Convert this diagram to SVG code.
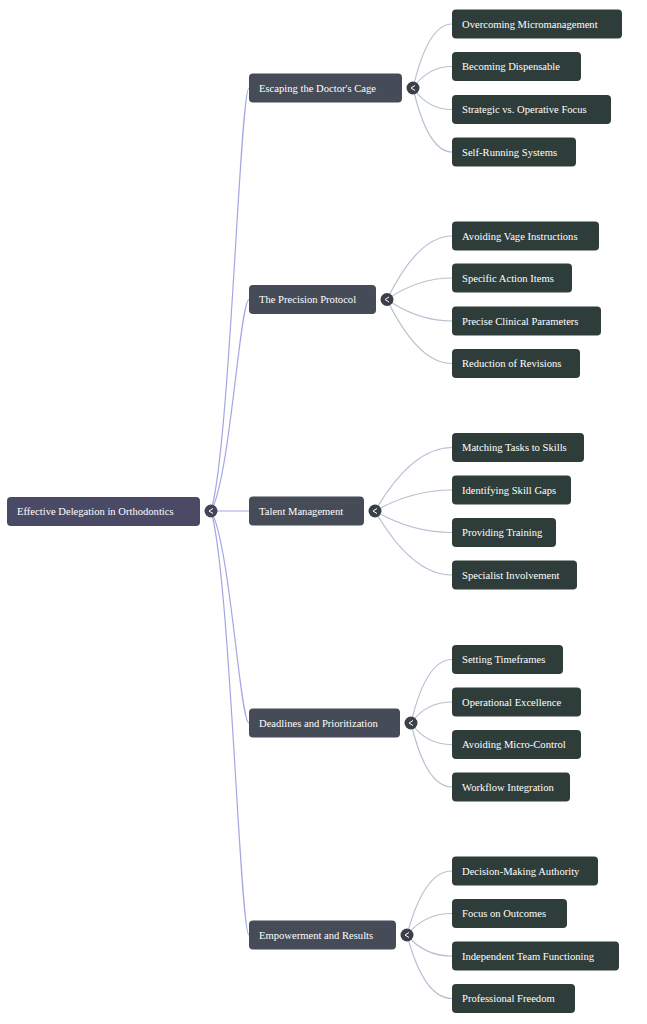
<svg xmlns="http://www.w3.org/2000/svg" width="647" height="1024" viewBox="0 0 647 1024">
<style>
text{font-family:"Liberation Serif","Times New Roman",serif;font-size:10.6px;fill:#ffffff}
.root{fill:#4b4a66}
.l1{fill:#454b57}
.l2{fill:#2e3d39}
.c0{fill:#434659}
.c1{fill:#3a3f48}
.arr{fill:none;stroke:#ffffff;stroke-width:1}
.m{fill:none;stroke:#a4a8e2;stroke-width:1.2}
.s{fill:none;stroke:#b7c1d0;stroke-width:1.2}
</style>
<rect width="647" height="1024" fill="#ffffff"/>
<g id="connectors">
<path class="m" d="M211 511 C230 447.5 240 88 249 88"/>
<path class="m" d="M211 511 C230 479 240 299.5 249 299.5"/>
<path class="m" d="M211 511 L249 511"/>
<path class="m" d="M211 511 C230 543 240 723 249 723"/>
<path class="m" d="M211 511 C230 574.5 240 935 249 935"/>
<path class="s" d="M413 88 Q428 24 452 24"/>
<path class="s" d="M413 88 Q428 66.5 452 66.5"/>
<path class="s" d="M413 88 Q428 109.5 452 109.5"/>
<path class="s" d="M413 88 Q428 152 452 152"/>
<path class="s" d="M387 299.5 Q418 236 452 236"/>
<path class="s" d="M387 299.5 Q418 278 452 278"/>
<path class="s" d="M387 299.5 Q418 321 452 321"/>
<path class="s" d="M387 299.5 Q418 363.5 452 363.5"/>
<path class="s" d="M375 511 Q412 447.5 452 447.5"/>
<path class="s" d="M375 511 Q412 490 452 490"/>
<path class="s" d="M375 511 Q412 532.5 452 532.5"/>
<path class="s" d="M375 511 Q412 575 452 575"/>
<path class="s" d="M411 723 Q426 659.5 452 659.5"/>
<path class="s" d="M411 723 Q426 702 452 702"/>
<path class="s" d="M411 723 Q426 744.5 452 744.5"/>
<path class="s" d="M411 723 Q426 787 452 787"/>
<path class="s" d="M407 935 Q424 871 452 871"/>
<path class="s" d="M407 935 Q424 913.5 452 913.5"/>
<path class="s" d="M407 935 Q424 956 452 956"/>
<path class="s" d="M407 935 Q424 998.5 452 998.5"/>
</g>
<g id="root">
<rect class="root" x="7" y="497" width="193" height="29" rx="4"/>
<text x="17" y="515">Effective Delegation in Orthodontics</text>
<circle class="c0" cx="211" cy="511" r="6.5"/>
<path class="arr" d="M213 508.5 L209 511 L213 513.5"/>
</g>
<g id="n1">
<rect class="l1" x="249" y="73.5" width="153" height="29" rx="4"/>
<text x="259" y="91.5">Escaping the Doctor's Cage</text>
<circle class="c1" cx="413" cy="88" r="6.5"/>
<path class="arr" d="M415 85.5 L411 88 L415 90.5"/>
</g>
<g id="n2">
<rect class="l1" x="249" y="285" width="127" height="29" rx="4"/>
<text x="259" y="303">The Precision Protocol</text>
<circle class="c1" cx="387" cy="299.5" r="6.5"/>
<path class="arr" d="M389 297 L385 299.5 L389 302"/>
</g>
<g id="n3">
<rect class="l1" x="249" y="496.5" width="115" height="29" rx="4"/>
<text x="259" y="514.5">Talent Management</text>
<circle class="c1" cx="375" cy="511" r="6.5"/>
<path class="arr" d="M377 508.5 L373 511 L377 513.5"/>
</g>
<g id="n4">
<rect class="l1" x="249" y="708.5" width="151" height="29" rx="4"/>
<text x="259" y="726.5">Deadlines and Prioritization</text>
<circle class="c1" cx="411" cy="723" r="6.5"/>
<path class="arr" d="M413 720.5 L409 723 L413 725.5"/>
</g>
<g id="n5">
<rect class="l1" x="249" y="920.5" width="147" height="29" rx="4"/>
<text x="259" y="938.5">Empowerment and Results</text>
<circle class="c1" cx="407" cy="935" r="6.5"/>
<path class="arr" d="M409 932.5 L405 935 L409 937.5"/>
</g>
<g id="n1a"><rect class="l2" x="452" y="9.5" width="170" height="29" rx="4"/><text x="462" y="27.5">Overcoming Micromanagement</text></g>
<g id="n1b"><rect class="l2" x="452" y="52" width="129" height="29" rx="4"/><text x="462" y="70">Becoming Dispensable</text></g>
<g id="n1c"><rect class="l2" x="452" y="95" width="159" height="29" rx="4"/><text x="462" y="113">Strategic vs. Operative Focus</text></g>
<g id="n1d"><rect class="l2" x="452" y="137.5" width="124" height="29" rx="4"/><text x="462" y="155.5">Self-Running Systems</text></g>
<g id="n2a"><rect class="l2" x="452" y="221.5" width="147" height="29" rx="4"/><text x="462" y="239.5">Avoiding Vage Instructions</text></g>
<g id="n2b"><rect class="l2" x="452" y="263.5" width="120" height="29" rx="4"/><text x="462" y="281.5">Specific Action Items</text></g>
<g id="n2c"><rect class="l2" x="452" y="306.5" width="149" height="29" rx="4"/><text x="462" y="324.5">Precise Clinical Parameters</text></g>
<g id="n2d"><rect class="l2" x="452" y="349" width="128" height="29" rx="4"/><text x="462" y="367">Reduction of Revisions</text></g>
<g id="n3a"><rect class="l2" x="452" y="433" width="132" height="29" rx="4"/><text x="462" y="451">Matching Tasks to Skills</text></g>
<g id="n3b"><rect class="l2" x="452" y="475.5" width="119" height="29" rx="4"/><text x="462" y="493.5">Identifying Skill Gaps</text></g>
<g id="n3c"><rect class="l2" x="452" y="518" width="104" height="29" rx="4"/><text x="462" y="536">Providing Training</text></g>
<g id="n3d"><rect class="l2" x="452" y="560.5" width="125" height="29" rx="4"/><text x="462" y="578.5">Specialist Involvement</text></g>
<g id="n4a"><rect class="l2" x="452" y="645" width="111" height="29" rx="4"/><text x="462" y="663">Setting Timeframes</text></g>
<g id="n4b"><rect class="l2" x="452" y="687.5" width="129" height="29" rx="4"/><text x="462" y="705.5">Operational Excellence</text></g>
<g id="n4c"><rect class="l2" x="452" y="730" width="129" height="29" rx="4"/><text x="462" y="748">Avoiding Micro-Control</text></g>
<g id="n4d"><rect class="l2" x="452" y="772.5" width="118" height="29" rx="4"/><text x="462" y="790.5">Workflow Integration</text></g>
<g id="n5a"><rect class="l2" x="452" y="856.5" width="146" height="29" rx="4"/><text x="462" y="874.5">Decision-Making Authority</text></g>
<g id="n5b"><rect class="l2" x="452" y="899" width="115" height="29" rx="4"/><text x="462" y="917">Focus on Outcomes</text></g>
<g id="n5c"><rect class="l2" x="452" y="941.5" width="167" height="29" rx="4"/><text x="462" y="959.5">Independent Team Functioning</text></g>
<g id="n5d"><rect class="l2" x="452" y="984" width="123" height="29" rx="4"/><text x="462" y="1002">Professional Freedom</text></g>
</svg>
